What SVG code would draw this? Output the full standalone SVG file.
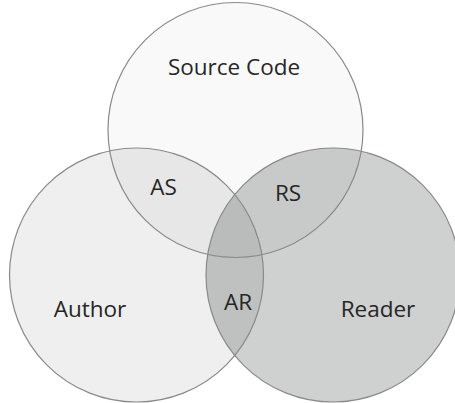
<svg xmlns="http://www.w3.org/2000/svg" width="455" height="403" viewBox="0 0 455 403">
  <style>
    .lbl { font-family: "Open Sans", "Noto Sans", "Liberation Sans", sans-serif; font-size: 22.5px; fill: #262626; text-anchor: middle; }
    .ring { fill: none; stroke: #8a8a8a; stroke-width: 1.2; }
  </style>
  <defs>
    <circle id="c-src" cx="235.5" cy="130" r="127.5"/>
    <circle id="c-auth" cx="136.5" cy="275" r="127"/>
    <circle id="c-read" cx="333" cy="275" r="127"/>
    <clipPath id="clip-src"><use href="#c-src"/></clipPath>
    <clipPath id="clip-auth"><use href="#c-auth"/></clipPath>
    <clipPath id="clip-read"><use href="#c-read"/></clipPath>
  </defs>

  <rect width="455" height="403" fill="#ffffff"/>

  <!-- base fills -->
  <use href="#c-src" fill="#f9f9f9"/>
  <use href="#c-auth" fill="#efefef"/>
  <use href="#c-read" fill="#cfd0d0"/>

  <!-- overlap regions -->
  <g clip-path="url(#clip-src)">
    <use href="#c-auth" fill="#e7e7e7"/>
    <use href="#c-read" fill="#c8c9c9"/>
  </g>
  <g clip-path="url(#clip-auth)">
    <use href="#c-read" fill="#bfc0c0"/>
    <g clip-path="url(#clip-src)">
      <use href="#c-read" fill="#babbbb"/>
    </g>
  </g>

  <!-- outlines and labels -->
  <g id="source-code">
    <use href="#c-src" class="ring"/>
    <text class="lbl" x="234" y="75">Source Code</text>
  </g>
  <g id="author">
    <use href="#c-auth" class="ring"/>
    <text class="lbl" x="90" y="317">Author</text>
  </g>
  <g id="reader">
    <use href="#c-read" class="ring"/>
    <text class="lbl" x="378" y="317">Reader</text>
  </g>
  <g id="as">
    <text class="lbl" x="163.5" y="195">AS</text>
  </g>
  <g id="rs">
    <text class="lbl" x="288" y="201">RS</text>
  </g>
  <g id="ar">
    <text class="lbl" x="238" y="310">AR</text>
  </g>
</svg>
